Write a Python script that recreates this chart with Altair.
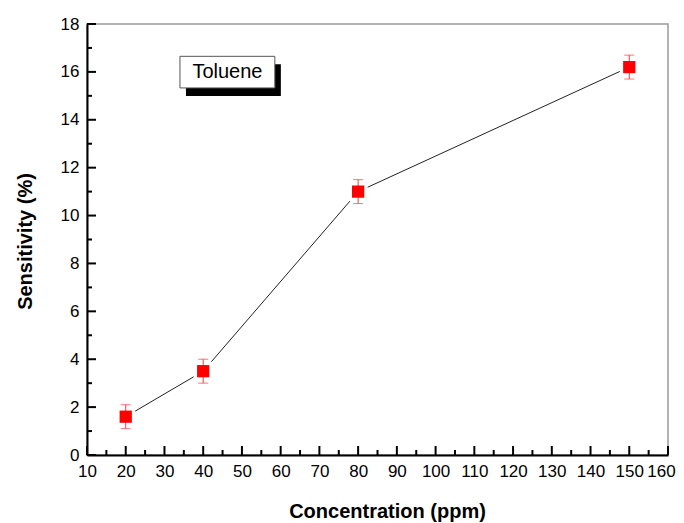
import altair as alt
import pandas as pd

# Data
conc = [20, 40, 80, 150]
sens = [1.6, 3.5, 11.0, 16.2]
err = [0.5, 0.5, 0.5, 0.5]

x_major = list(range(10, 161, 10))
x_minor = list(range(15, 160, 10))
y_major = list(range(0, 19, 2))
y_minor = list(range(1, 18, 2))

legend_label = "Toluene"
legend_box = {"x": 34.0, "x2": 58.5, "y": 16.65, "y2": 15.33}

W, H = 581, 431
XDOM, YDOM = [10, 160], [0, 18]

df = pd.DataFrame({"x": conc, "y": sens, "err": err})
df["lo"] = df["y"] - df["err"]
df["hi"] = df["y"] + df["err"]

xs = alt.Scale(domain=XDOM, nice=False, zero=False)
ys = alt.Scale(domain=YDOM, nice=False, zero=True)

FONT = "Liberation Sans"

xaxis = alt.Axis(title="Concentration (ppm)", values=x_major, ticks=False,
                 grid=False, domainColor="black", domainWidth=2,
                 labelFontSize=17, labelFont=FONT, labelColor="black",
                 labelPadding=8, labelFlush=False, labelOverlap=False,
                 labelBound=False,
                 labelOffset={"expr": "datum.value == %d ? -7 : 0" % XDOM[1]},
                 titleFont=FONT, titleFontSize=20, titleFontWeight="bold",
                 titleColor="black", titleX=300, titleY=62,
                 titleBaseline="alphabetic")
yaxis = alt.Axis(title="Sensitivity (%)", values=y_major, ticks=False,
                 grid=False, domainColor="black", domainWidth=2,
                 labelFontSize=17, labelFont=FONT, labelColor="black",
                 labelPadding=8, labelOverlap=False,
                 titleFont=FONT, titleFontSize=20, titleFontWeight="bold",
                 titleColor="black", titleX=-56, titleY=217,
                 titleBaseline="alphabetic")


def X(f):
    return alt.X(f, scale=xs, axis=xaxis)


def Y(f):
    return alt.Y(f, scale=ys, axis=yaxis)


base = alt.Chart(df)

line = base.mark_line(color="#222222", strokeWidth=1).encode(x=X("x:Q"), y=Y("y:Q"))

gap = base.mark_square(color="white", opacity=1, size=360).encode(x=X("x:Q"), y=Y("y:Q"))

ebar = base.mark_rule(color="#ff3a3a", strokeWidth=1).encode(
    x=X("x:Q"), y=Y("lo:Q"), y2="hi:Q")
cap_lo = base.mark_tick(color="#ff3a3a", orient="horizontal", size=10, thickness=1).encode(
    x=X("x:Q"), y=Y("lo:Q"))
cap_hi = base.mark_tick(color="#ff3a3a", orient="horizontal", size=10, thickness=1).encode(
    x=X("x:Q"), y=Y("hi:Q"))

pts = base.mark_square(color="#ff0000", opacity=1, size=150).encode(x=X("x:Q"), y=Y("y:Q"))

# inward ticks
xmaj = alt.Chart(pd.DataFrame({"x": x_major})).mark_rule(color="black", strokeWidth=2).encode(
    x=X("x:Q"), y=alt.value(H), y2=alt.value(H - 9))
xmin = alt.Chart(pd.DataFrame({"x": x_minor})).mark_rule(color="black", strokeWidth=2).encode(
    x=X("x:Q"), y=alt.value(H), y2=alt.value(H - 5))
ymaj = alt.Chart(pd.DataFrame({"y": y_major})).mark_rule(color="black", strokeWidth=2).encode(
    y=Y("y:Q"), x=alt.value(0), x2=alt.value(9))
ymin = alt.Chart(pd.DataFrame({"y": y_minor})).mark_rule(color="black", strokeWidth=2).encode(
    y=Y("y:Q"), x=alt.value(0), x2=alt.value(5))

# legend box with shadow
lb = pd.DataFrame([dict(legend_box, label=legend_label)])
shadow = alt.Chart(lb).mark_rect(color="black", xOffset=6, x2Offset=6, yOffset=8, y2Offset=8).encode(
    x=X("x:Q"), x2="x2:Q", y=Y("y:Q"), y2="y2:Q")
box = alt.Chart(lb).mark_rect(fill="white", stroke="#555555", strokeWidth=1).encode(
    x=X("x:Q"), x2="x2:Q", y=Y("y:Q"), y2="y2:Q")
lab = alt.Chart(lb).transform_calculate(
    cx="(datum.x + datum.x2) / 2", cy="(datum.y + datum.y2) / 2"
).mark_text(font=FONT, fontSize=20, color="black", align="center", baseline="middle").encode(
    x=X("cx:Q"), y=Y("cy:Q"), text="label:N")

chart = alt.layer(
    line, gap, ebar, cap_lo, cap_hi, pts, xmaj, xmin, ymaj, ymin, shadow, box, lab
).properties(
    width=W, height=H,
    autosize=alt.AutoSizeParams(type="none"),
    padding={"left": 79, "top": 16, "right": 8, "bottom": 67},
    background="white",
).configure_view(stroke="#9a9a9a", strokeWidth=1.5
).configure_axis(labelOverlap=False)

chart.save("out.html", embed_options={"renderer": "svg", "actions": False})
